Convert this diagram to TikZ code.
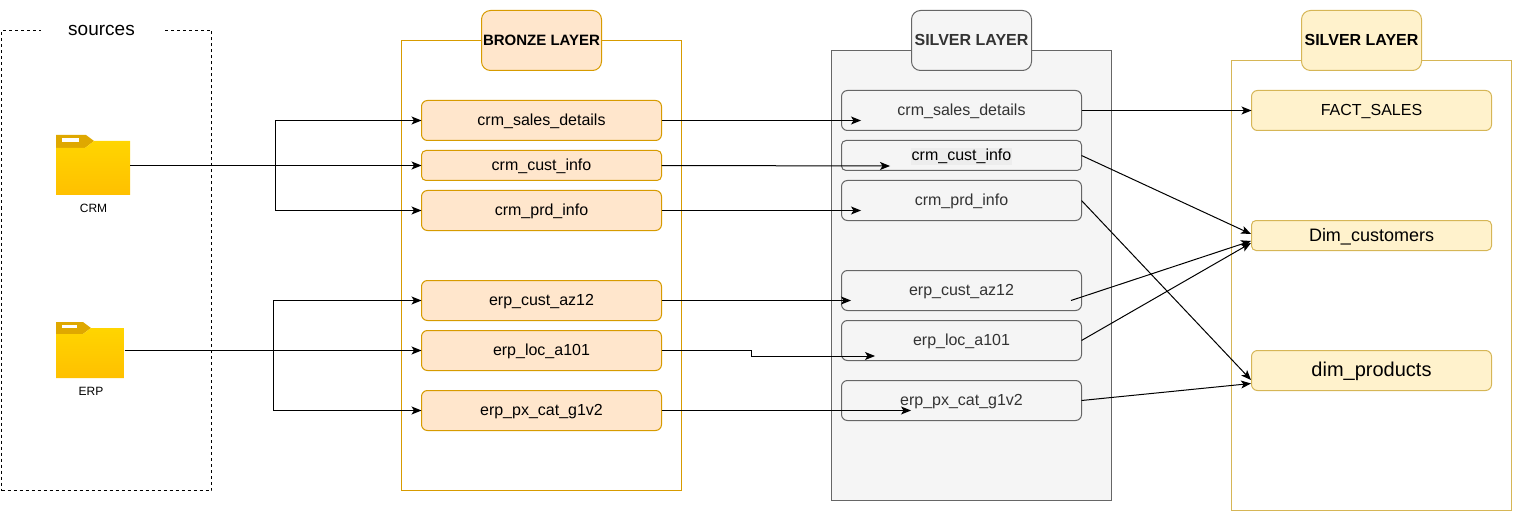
\documentclass[tikz,border=0pt]{standalone}
\usepackage{fontspec}
\setmainfont{Liberation Sans}
\usetikzlibrary{arrows.meta}
\definecolor{bronzeline}{HTML}{D79B00}
\definecolor{bronzefill}{HTML}{FFE6CC}
\definecolor{silverline}{HTML}{666666}
\definecolor{silverfill}{HTML}{F5F5F5}
\definecolor{silvertext}{HTML}{333333}
\definecolor{silvermark}{HTML}{EDEDED}
\definecolor{goldline}{HTML}{D6B656}
\definecolor{goldfill}{HTML}{FFF2CC}
\definecolor{foldertop}{HTML}{FFD500}
\definecolor{folderbot}{HTML}{FFC000}
\definecolor{foldertab}{HTML}{DFA800}
\newcommand{\txt}[1]{\fontsize{#1}{#1}\selectfont}
\tikzset{
  every node/.style={inner sep=0pt,outer sep=0pt,align=center},
  sized/.style n args={3}{font=\txt{#1},text height=#2pt,text depth=#3pt},
  frame/.style={draw,minimum width=280pt,anchor=north west},
  layertitle/.style={draw,rounded corners=9pt,minimum width=120pt,minimum height=60pt,sized={15}{10.5}{1.2}},
  bronzebox/.style={draw=bronzeline,fill=bronzefill,rounded corners=6pt,minimum width=240pt,minimum height=40pt,sized={16}{11.2}{1.3}},
  silverbox/.style={draw=silverline,fill=silverfill,text=silvertext,rounded corners=6pt,minimum width=240pt,minimum height=40pt,sized={16}{11.2}{1.3}},
  goldbox/.style={draw=goldline,fill=goldfill,rounded corners=6pt,minimum width=240pt,minimum height=40pt,sized={16}{11.2}{1.3}},
  flat/.style={minimum height=30pt,rounded corners=4.5pt},
  folder/.style={minimum height=60pt},
  conn/.style={draw=black,line width=1pt,-{Stealth[length=10pt,width=8pt,inset=2.5pt]}},
}
\begin{document}
\begin{tikzpicture}[x=1pt,y=-1pt,line width=1pt]
  \useasboundingbox (0,0) rectangle (1514,513);
  % sources
  \node[draw,dashed,minimum width=210pt,minimum height=460pt,anchor=north west] (src) at (1.5,30.5) {};
  \node[fill=white,minimum width=122pt,minimum height=20pt,sized={19}{13.3}{1.5}] (srctitle) at (101.5,30) {sources};
  % folders
  \node[folder,minimum width=74pt] (crm) at (93,165.5) {};
  \fill[foldertab] (56,135) -- (86,135) -- (94,141) -- (85,148) -- (56,148) -- cycle;
  \shade[top color=foldertop,bottom color=folderbot] (56,148) -- (85,148) -- (94,141) -- (130,141) -- (130,195) -- (56,195) -- cycle;
  \fill[white] (62,138) rectangle (79,142);
  \node[sized={12}{8.4}{1}] (crmtext) at (93.5,208.5) {CRM};
  \node[folder,minimum width=69pt,minimum height=56pt] (erp) at (90,350.5) {};
  \fill[foldertab] (56,322) -- (83,322) -- (91,328) -- (83,334) -- (56,334) -- cycle;
  \shade[top color=foldertop,bottom color=folderbot] (56,334) -- (83,334) -- (91,328) -- (124,328) -- (124,378) -- (56,378) -- cycle;
  \fill[white] (62,325) rectangle (77,328);
  \node[sized={12}{8.4}{1}] (erptext) at (91,391.5) {ERP};
  % bronze
  \node[frame,draw=bronzeline,minimum height=450pt] (bronze) at (401.5,40.5) {};
  \node[layertitle,draw=bronzeline,fill=bronzefill] (bronzetitle) at (541.5,40.5) {\bfseries BRONZE LAYER};
  \node[bronzebox] (bsales) at (541.5,120.5) {crm\_sales\_details};
  \node[bronzebox,flat] (bcust) at (541.5,165.5) {crm\_cust\_info};
  \node[bronzebox] (bprd) at (541.5,210.5) {crm\_prd\_info};
  \node[bronzebox] (baz) at (541.5,300.5) {erp\_cust\_az12};
  \node[bronzebox] (bloc) at (541.5,350.5) {erp\_loc\_a101};
  \node[bronzebox] (bpx) at (541.5,410.5) {erp\_px\_cat\_g1v2};
  % silver
  \node[frame,draw=silverline,fill=silverfill,minimum height=450pt] (silver) at (831.5,50.5) {};
  \node[layertitle,draw=silverline,fill=silverfill,text=silvertext,sized={16}{11.2}{1.3}] (silvertitle) at (971.5,40.5) {\bfseries SILVER LAYER};
  \node[silverbox] (ssales) at (961.5,110.5) {crm\_sales\_details};
  \node[silverbox,flat,text=black] (scust) at (961.5,155.5) {\setlength{\fboxsep}{1pt}\colorbox{silvermark}{crm\_cust\_info}};
  \node[silverbox] (sprd) at (961.5,200.5) {crm\_prd\_info};
  \node[silverbox] (saz) at (961.5,290.5) {erp\_cust\_az12};
  \node[silverbox] (sloc) at (961.5,340.5) {erp\_loc\_a101};
  \node[silverbox] (spx) at (961.5,400.5) {erp\_px\_cat\_g1v2};
  % gold
  \node[frame,draw=goldline,minimum height=450pt] (gold) at (1231.5,60.5) {};
  \node[layertitle,draw=goldline,fill=goldfill,sized={16}{11.2}{1.3}] (goldtitle) at (1361.5,40.5) {\bfseries SILVER LAYER};
  \node[goldbox] (gfact) at (1371.5,110.5) {FACT\_SALES};
  \node[goldbox,flat,sized={18}{12.6}{1.4}] (gcust) at (1371.5,235.5) {Dim\_customers};
  \node[goldbox,sized={20}{14}{1.6}] (gprod) at (1371.5,370.5) {dim\_products};
  % free ends
  \coordinate (crmbus) at (275.5,165.5);
  \coordinate (erpbus) at (273.5,350.5);
  \coordinate (insales) at (861,120.5);
  \coordinate (incust) at (890,166);
  \coordinate (inprd) at (861,210.5);
  \coordinate (inaz) at (851,300.5);
  \coordinate (inloc) at (875,356);
  \coordinate (inpx) at (911,410.5);
  \coordinate (locstep) at (751,350.5);
  \coordinate (outaz) at (1071,300.5);
  \coordinate (gcusta) at (1251,234);
  \coordinate (gcustb) at (1251,241);
  \coordinate (gcustc) at (1251,243);
  \coordinate (gproda) at (1251,380);
  \coordinate (gprodb) at (1251,383.5);
  % sources to bronze
  \draw[conn] (crm.east) -- (bcust.west);
  \draw[conn] (crmbus) |- (bsales.west);
  \draw[conn] (crmbus) |- (bprd.west);
  \draw[conn] (erp.east) -- (bloc.west);
  \draw[conn] (erpbus) |- (baz.west);
  \draw[conn] (erpbus) |- (bpx.west);
  % bronze to silver
  \draw[conn] (bsales.east) -- (insales);
  \draw[conn] (bcust.east) -- (incust);
  \draw[conn] (bprd.east) -- (inprd);
  \draw[conn] (baz.east) -- (inaz);
  \draw[conn] (bloc.east) -- (locstep) |- (inloc);
  \draw[conn] (bpx.east) -- (inpx);
  % silver to gold
  \draw[conn] (ssales.east) -- (gfact.west);
  \draw[conn] (scust.east) -- (gcusta);
  \draw[conn] (sprd.east) -- (gproda);
  \draw[conn] (outaz) -- (gcustb);
  \draw[conn] (sloc.east) -- (gcustc);
  \draw[conn] (spx.east) -- (gprodb);
\end{tikzpicture}
\end{document}
